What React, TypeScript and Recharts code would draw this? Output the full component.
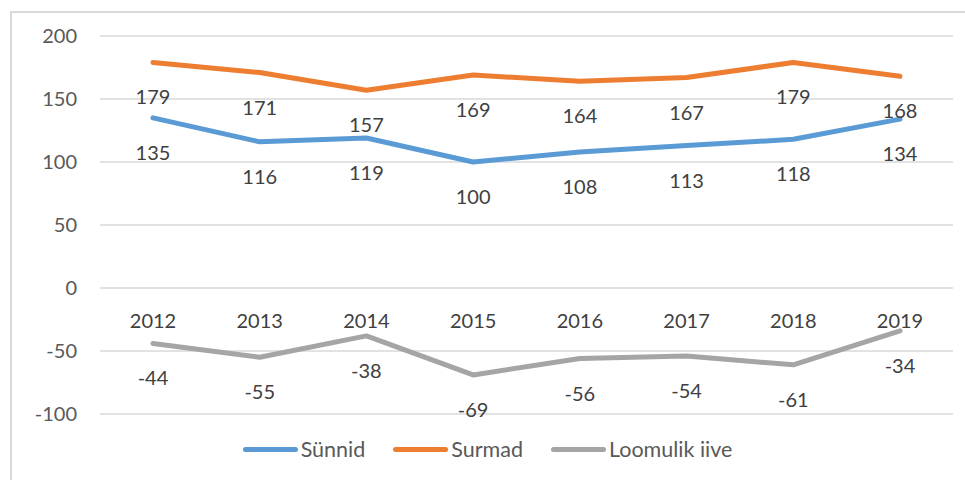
import React from 'react';
import { LineChart, Line, XAxis, YAxis, CartesianGrid, Legend, LabelList } from 'recharts';

const years = ['2012', '2013', '2014', '2015', '2016', '2017', '2018', '2019'];
const sunnid = [135, 116, 119, 100, 108, 113, 118, 134];
const surmad = [179, 171, 157, 169, 164, 167, 179, 168];
const iive = [-44, -55, -38, -69, -56, -54, -61, -34];
const yTicks = [-100, -50, 0, 50, 100, 150, 200];

const series = [
  { key: 'sunnid', name: 'Sünnid', color: '#5b9bd5' },
  { key: 'surmad', name: 'Surmad', color: '#ed7d31' },
  { key: 'iive', name: 'Loomulik iive', color: '#a5a5a5' },
];

// zero is only there so the year labels sit on the 0 line, like Excel's crossing axis
const data = years.map((year, i) => ({
  year,
  sunnid: sunnid[i],
  surmad: surmad[i],
  iive: iive[i],
  zero: 0,
}));

const FONT = 'Lato, "Open Sans", sans-serif';

const BelowLabel = (props: any) => {
  const { x, y, value, dy = 42 } = props;
  return (
    <text x={x} y={y + dy} textAnchor="middle" fontSize={20} fill="#404040" fontFamily={FONT}>
      {value}
    </text>
  );
};

const LegendBox = () => (
  <div style={{ display: 'flex', justifyContent: 'center', alignItems: 'center', fontFamily: FONT, fontSize: 21.5, color: '#595959', paddingLeft: 38 }}>
    {series.map((s) => (
      <div key={s.key} style={{ display: 'flex', alignItems: 'center', marginRight: 28 }}>
        <span style={{ display: 'inline-block', width: 55, height: 5, borderRadius: 3, background: s.color, marginRight: 3 }} />
        <span>{s.name}</span>
      </div>
    ))}
  </div>
);

export default function App() {
  return (
    <div style={{ position: 'absolute', left: 0, top: 0, width: 965, height: 480, background: '#fff', overflow: 'hidden' }}>
      <div style={{ position: 'absolute', left: 10, top: 11, width: 980, height: 500, border: '2px solid #d9d9d9' }} />
      <LineChart width={965} height={480} data={data} margin={{ top: 36, right: 12, bottom: 66, left: 10 }}>
        <CartesianGrid vertical={false} stroke="#d9d9d9" strokeWidth={1.5} />
        <XAxis dataKey="year" hide padding={{ left: 53, right: 53 }} />
        <YAxis
          domain={[-100, 200]}
          ticks={yTicks}
          width={90}
          axisLine={false}
          tickLine={false}
          tickMargin={17}
          tick={{ fill: '#595959', fontSize: 20, fontFamily: FONT }}
        />
        <Legend
          layout="horizontal"
          verticalAlign="middle"
          align="center"
          content={<LegendBox />}
          wrapperStyle={{ top: 436, left: 0, width: 965 }}
        />
        <Line dataKey="zero" stroke="none" dot={false} isAnimationActive={false} legendType="none">
          <LabelList dataKey="year" content={<BelowLabel dy={40} />} />
        </Line>
        {series.map((s) => (
          <Line
            key={s.key}
            dataKey={s.key}
            name={s.name}
            stroke={s.color}
            strokeWidth={5}
            strokeLinecap="round"
            strokeLinejoin="round"
            dot={false}
            isAnimationActive={false}
          >
            <LabelList dataKey={s.key} content={<BelowLabel />} />
          </Line>
        ))}
      </LineChart>
    </div>
  );
}
